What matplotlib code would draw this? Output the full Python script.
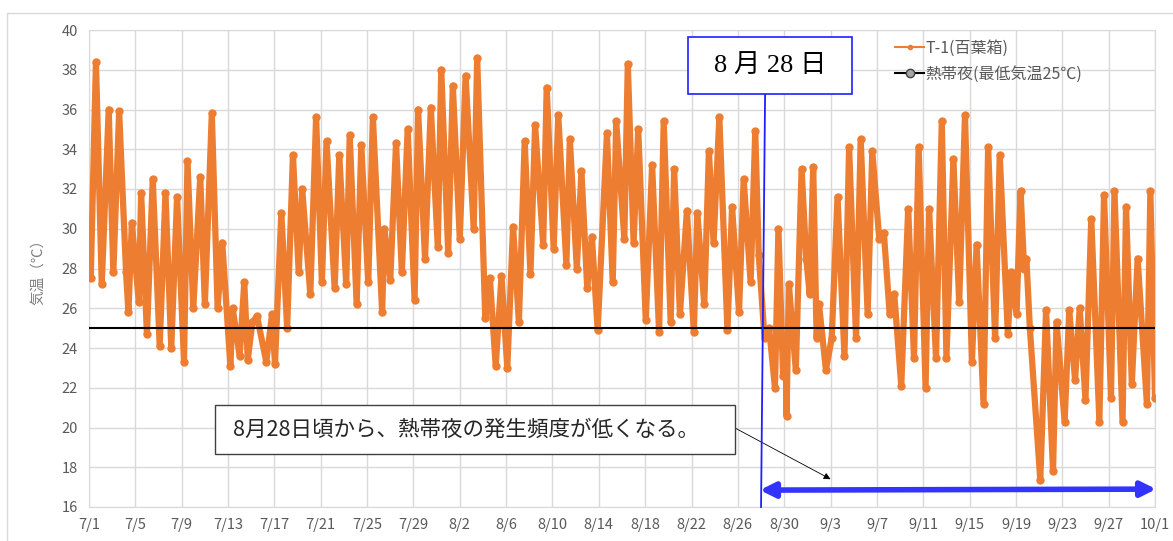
import datetime as dt
import matplotlib
matplotlib.use("Agg")
import matplotlib.pyplot as plt
from matplotlib.lines import Line2D
from matplotlib.patches import Rectangle

plt.rcParams['font.family'] = ['Noto Sans CJK JP', 'DejaVu Sans']

# turning points of the hourly record: days since 7/1 and temperature (C)
turn_day = [
    0.0, 0.15, 0.6, 1.1, 1.7, 2.1, 2.6, 3.2, 3.4, 3.7, 4.3, 4.5, 5.0, 5.5, 6.1, 6.6,
    7.1, 7.6, 8.2, 8.5, 9.0, 9.6, 10.0, 10.6, 11.1, 11.5, 12.2, 12.4, 13.0, 13.4,
    13.7, 14.1, 14.5, 15.3, 15.8, 16.05, 16.6, 17.1, 17.6, 18.1, 18.4, 19.1, 19.6,
    20.1, 20.5, 21.2, 21.6, 22.2, 22.5, 23.1, 23.5, 24.1, 24.5, 25.3, 25.5, 26.0,
    26.5, 27.0, 27.5, 28.1, 28.4, 29.0, 29.5, 30.1, 30.4, 31.0, 31.4, 32.0, 32.5,
    33.2, 33.5, 34.2, 34.6, 35.1, 35.6, 36.1, 36.6, 37.1, 37.6, 38.1, 38.5, 39.2,
    39.5, 40.1, 40.5, 41.2, 41.5, 42.1, 42.5, 43.0, 43.4, 43.9, 44.7, 45.2, 45.5,
    46.2, 46.5, 47.0, 47.4, 48.05, 48.6, 49.2, 49.6, 50.2, 50.5, 51.0, 51.6, 52.2,
    52.5, 53.1, 53.5, 53.9, 54.4, 55.1, 55.5, 56.1, 56.5, 57.1, 57.5, 57.8, 58.3,
    58.7, 59.2, 59.5, 59.9, 60.1, 60.2, 60.4, 61.0, 61.5, 61.9, 62.2, 62.5, 62.8,
    63.0, 63.6, 64.1, 64.6, 65.2, 65.6, 66.2, 66.6, 67.2, 67.6, 68.2, 68.6, 69.1,
    69.5, 70.1, 70.7, 71.2, 71.6, 72.2, 72.5, 73.1, 73.6, 74.0, 74.6, 75.1, 75.6,
    76.2, 76.6, 77.2, 77.6, 78.2, 78.6, 79.3, 79.6, 80.05, 80.4, 80.7, 80.9, 81.2,
    82.1, 82.6, 83.2, 83.5, 84.2, 84.6, 85.1, 85.5, 86.0, 86.5, 87.2, 87.6, 88.2,
    88.5, 89.2, 89.5, 90.0, 90.5, 91.3, 91.6, 92.0,
]
turn_temp = [
    28.3, 27.5, 38.4, 27.2, 36.0, 27.8, 35.9, 27.8, 25.8, 30.3, 26.3, 31.8, 24.7, 32.5, 24.1, 31.8,
    24.0, 31.6, 23.3, 33.4, 26.0, 32.6, 26.2, 35.8, 26.0, 29.3, 23.1, 26.0, 23.6, 27.3,
    23.4, 25.3, 25.6, 23.3, 25.7, 23.2, 30.8, 25.0, 33.7, 27.8, 32.0, 26.7, 35.6,
    27.3, 34.4, 27.0, 33.7, 27.2, 34.7, 26.2, 34.2, 27.3, 35.6, 25.8, 30.0, 27.4,
    34.3, 27.8, 35.0, 26.4, 36.0, 28.5, 36.1, 29.1, 38.0, 28.8, 37.2, 29.5, 37.7,
    30.0, 38.6, 25.5, 27.5, 23.1, 27.6, 23.0, 30.1, 25.3, 34.4, 27.7, 35.2, 29.2,
    37.1, 29.0, 35.7, 28.2, 34.5, 28.0, 32.9, 27.0, 29.6, 24.9, 34.8, 27.3, 35.4,
    29.5, 38.3, 29.3, 35.0, 25.4, 33.2, 24.8, 35.4, 25.3, 33.0, 25.7, 30.9, 24.8,
    30.8, 26.2, 33.9, 29.3, 35.6, 24.9, 31.1, 25.8, 32.5, 27.3, 34.9, 28.7, 24.5,
    25.0, 22.0, 30.0, 22.6, 24.5, 20.6, 27.2, 22.9, 33.0, 28.5, 26.7, 33.1, 24.5,
    26.2, 22.9, 24.5, 31.6, 23.6, 34.1, 24.5, 34.5, 25.7, 33.9, 29.5, 29.8, 25.7,
    26.7, 22.1, 31.0, 23.5, 34.1, 22.0, 31.0, 23.5, 35.4, 23.5, 33.5, 26.3, 35.7,
    23.3, 29.2, 21.2, 34.1, 24.5, 33.7, 24.7, 27.8, 25.7, 31.9, 28.0, 28.5, 25.0,
    17.35, 25.9, 17.8, 25.3, 20.3, 25.9, 22.4, 26.0, 21.4, 30.5, 20.3, 31.7, 21.5,
    31.9, 20.3, 31.1, 22.2, 28.5, 21.2, 31.9, 21.5,
]

tropical_night = 25
start = dt.date(2020, 7, 1)
n_days = 92
tick_days = list(range(0, n_days + 1, 4))
tick_labels = [f"{d.month}/{d.day}" for d in (start + dt.timedelta(days=k) for k in tick_days)]
change_day = (dt.date(2020, 8, 28) - start).days

orange = '#ED7D31'
grid_c = '#d9d9d9'
txt_c = '#595959'

fig = plt.figure(figsize=(11.73, 5.41), dpi=100)
ax = fig.add_axes([89 / 1173, 1 - 507 / 541, 1066 / 1173, 477 / 541])

fig.patches.append(Rectangle((7 / 1173, -0.05), 1.0, 1.05 - 13 / 541, transform=fig.transFigure,
                             fill=False, edgecolor=grid_c, lw=1))

ax.plot(turn_day, turn_temp, color=orange, lw=4.5, marker='o', ms=5, zorder=3,
        solid_joinstyle='round')
ax.plot([0, n_days], [tropical_night, tropical_night], color='black', lw=1.5, zorder=4)

ax.set_xlim(0, n_days)
ax.set_ylim(16, 40)
ax.set_yticks(range(16, 41, 2))
ax.set_xticks(tick_days)
ax.set_xticklabels(tick_labels)
ax.grid(True, color=grid_c, lw=1)
ax.set_axisbelow(True)
for s in ax.spines.values():
    s.set_color(grid_c)
ax.tick_params(length=0, colors=txt_c, labelsize=10.5, pad=8)
ax.set_ylabel('気温（℃）', color='#7f7f7f', fontsize=10.5, labelpad=12)

handles = [
    Line2D([], [], color=orange, lw=1.5, marker='o', ms=3),
    Line2D([], [], color='black', lw=1.5, marker='o', ms=6, mfc='#a6a6a6', mec='#404040'),
]
ax.legend(handles, ['T-1(百葉箱)', '熱帯夜(最低気温25℃)'], loc='upper left',
          bbox_to_anchor=(0.743, 1.01), frameon=False, fontsize=11.5,
          labelcolor=txt_c, handlelength=1.8, handletextpad=0.1, labelspacing=0.55)

# date callout
fig.patches.append(Rectangle((688 / 1173, 1 - 94 / 541), 164 / 1173, 57 / 541,
                             transform=fig.transFigure, facecolor='white',
                             edgecolor='#1f1fff', lw=1.2, zorder=5))
fig.text(770 / 1173, 1 - 66 / 541, '8 月 28 日', ha='center', va='center', fontsize=19,
         family=['Liberation Serif', 'Noto Sans CJK JP'], zorder=6)
ax.plot([change_day + 0.35, change_day], [36.8, 16.0], color='#1f1fff', lw=1.3,
        clip_on=False, zorder=5)

# note box
fig.patches.append(Rectangle((215 / 1173, 1 - 454 / 541), 520 / 1173, 49 / 541,
                             transform=fig.transFigure, facecolor='white',
                             edgecolor='#404040', lw=1, zorder=5))
fig.text(233 / 1173, 1 - 430 / 541, '8月28日頃から、熱帯夜の発生頻度が低くなる。', ha='left',
         va='center', fontsize=15.5, color='#262626', zorder=6)
ax.annotate('', xy=(64.0, 17.4), xycoords='data', xytext=(735 / 1173, 1 - 428 / 541),
            textcoords='figure fraction',
            arrowprops=dict(arrowstyle='-|>', color='black', lw=0.6, mutation_scale=10,
                            shrinkA=0, shrinkB=0))

# period arrow
ax.annotate('', xy=(n_days + 0.1, 16.9), xytext=(change_day - 0.1, 16.85),
            arrowprops=dict(arrowstyle='<|-|>', color='#3333ff', lw=4, mutation_scale=22,
                            shrinkA=0, shrinkB=0), annotation_clip=False)

fig.savefig('out.png', dpi=100)
